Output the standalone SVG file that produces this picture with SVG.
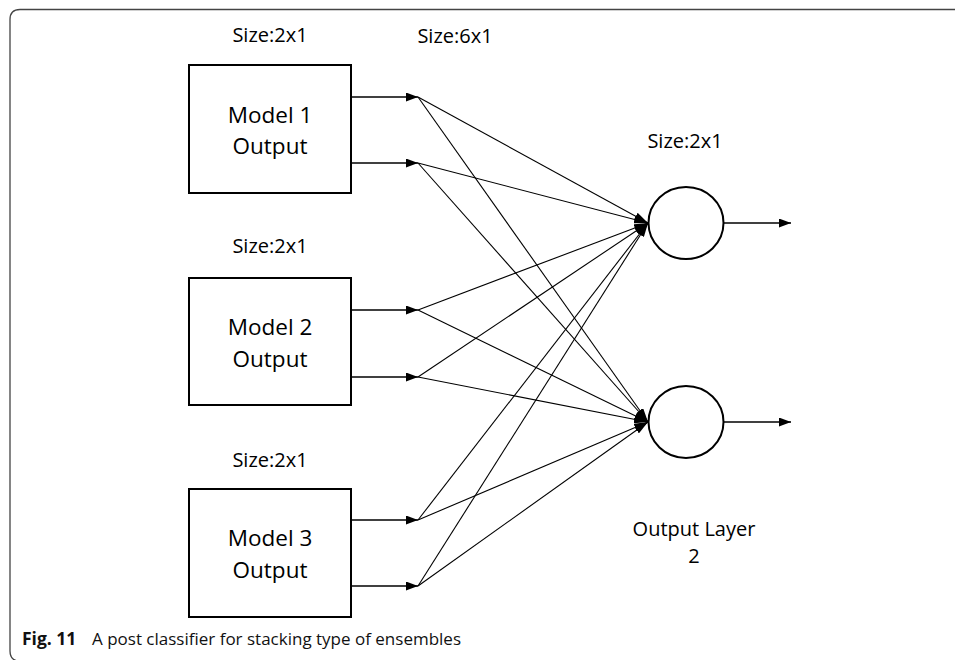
<svg xmlns="http://www.w3.org/2000/svg" width="955" height="660" viewBox="0 0 955 660">
  <style>
    .box { fill: #fff; stroke: #000; stroke-width: 2; }
    .neuron { fill: #fff; stroke: #000; stroke-width: 2; }
    .lbl { font-family: "Open Sans", "Noto Sans", sans-serif; fill: #000; text-anchor: middle; }
    .size { font-size: 20px; }
    .name { font-size: 22.5px; }
    .edge { stroke: #000; stroke-width: 1.3; fill: none; }
    .fan { stroke: #000; stroke-width: 1.1; fill: none; }
    .cap { font-family: "Open Sans", "Noto Sans", sans-serif; font-size: 17px; fill: #111; }
  </style>
  <defs>
    <marker id="tip" viewBox="0 0 12 9" refX="12" refY="4.5" markerWidth="12" markerHeight="9" markerUnits="userSpaceOnUse" orient="auto">
      <path d="M0,0 L12,4.5 L0,9 Z" fill="#000"/>
    </marker>
    <marker id="tipIn" viewBox="0 0 14 8" refX="14" refY="4" markerWidth="14" markerHeight="8" markerUnits="userSpaceOnUse" orient="auto">
      <path d="M0,0 L14,4 L0,8 Z" fill="#000"/>
    </marker>
  </defs>

  <rect width="955" height="660" fill="#fff"/>

  <!-- figure frame -->
  <path d="M955 9.5 H20 Q10 9.5 10 19.5 V651 Q10 660 18 661" fill="none" stroke="#444" stroke-width="1.3"/>

  <!-- size labels -->
  <text class="lbl size" x="270" y="42">Size:2x1</text>
  <text class="lbl size" x="455" y="43">Size:6x1</text>
  <text class="lbl size" x="270" y="253">Size:2x1</text>
  <text class="lbl size" x="270" y="467">Size:2x1</text>
  <text class="lbl size" x="685" y="148">Size:2x1</text>

  <!-- model blocks -->
  <g id="model1">
    <rect class="box" x="189" y="65" width="162" height="128"/>
    <text class="lbl name" x="270" y="123">Model 1</text>
    <text class="lbl name" x="270" y="154">Output</text>
  </g>
  <g id="model2">
    <rect class="box" x="189" y="278" width="162" height="127"/>
    <text class="lbl name" x="270" y="335">Model 2</text>
    <text class="lbl name" x="270" y="367">Output</text>
  </g>
  <g id="model3">
    <rect class="box" x="189" y="489" width="162" height="128"/>
    <text class="lbl name" x="270" y="546">Model 3</text>
    <text class="lbl name" x="270" y="578">Output</text>
  </g>

  <!-- output layer neurons -->
  <g id="out1">
    <ellipse class="neuron" cx="686" cy="223" rx="37.5" ry="36"/>
  </g>
  <g id="out2">
    <ellipse class="neuron" cx="686" cy="422" rx="37.5" ry="36"/>
  </g>
  <g id="outLabel">
    <text class="lbl size" x="694" y="536">Output Layer</text>
    <text class="lbl size" x="694" y="563">2</text>
  </g>

  <!-- connectors -->
  <g id="connectors">
    <!-- model outputs into the 6x1 layer -->
    <line class="edge" x1="351" y1="97" x2="418" y2="97" marker-end="url(#tip)"/>
    <line class="edge" x1="351" y1="163" x2="418" y2="163" marker-end="url(#tip)"/>
    <line class="edge" x1="351" y1="310" x2="418" y2="310" marker-end="url(#tip)"/>
    <line class="edge" x1="351" y1="377" x2="418" y2="377" marker-end="url(#tip)"/>
    <line class="edge" x1="351" y1="520" x2="418" y2="520" marker-end="url(#tip)"/>
    <line class="edge" x1="351" y1="586" x2="418" y2="586" marker-end="url(#tip)"/>

    <!-- fully connected to output neuron 1 -->
    <line class="fan" x1="418" y1="97" x2="648" y2="223" marker-end="url(#tipIn)"/>
    <line class="fan" x1="418" y1="163" x2="648" y2="223" marker-end="url(#tipIn)"/>
    <line class="fan" x1="418" y1="310" x2="648" y2="223" marker-end="url(#tipIn)"/>
    <line class="fan" x1="418" y1="377" x2="648" y2="223" marker-end="url(#tipIn)"/>
    <line class="fan" x1="418" y1="520" x2="648" y2="223" marker-end="url(#tipIn)"/>
    <line class="fan" x1="418" y1="586" x2="648" y2="223" marker-end="url(#tipIn)"/>

    <!-- fully connected to output neuron 2 -->
    <line class="fan" x1="418" y1="97" x2="648" y2="422" marker-end="url(#tipIn)"/>
    <line class="fan" x1="418" y1="163" x2="648" y2="422" marker-end="url(#tipIn)"/>
    <line class="fan" x1="418" y1="310" x2="648" y2="422" marker-end="url(#tipIn)"/>
    <line class="fan" x1="418" y1="377" x2="648" y2="422" marker-end="url(#tipIn)"/>
    <line class="fan" x1="418" y1="520" x2="648" y2="422" marker-end="url(#tipIn)"/>
    <line class="fan" x1="418" y1="586" x2="648" y2="422" marker-end="url(#tipIn)"/>

    <!-- neuron outputs -->
    <line class="edge" x1="724" y1="223" x2="791" y2="223" marker-end="url(#tip)"/>
    <line class="edge" x1="724" y1="422" x2="791" y2="422" marker-end="url(#tip)"/>
  </g>

  <!-- caption -->
  <text class="cap" x="22" y="645"><tspan font-weight="bold" font-size="17.5px">Fig. 11</tspan><tspan x="92">A post classifier for stacking type of ensembles</tspan></text>
</svg>
